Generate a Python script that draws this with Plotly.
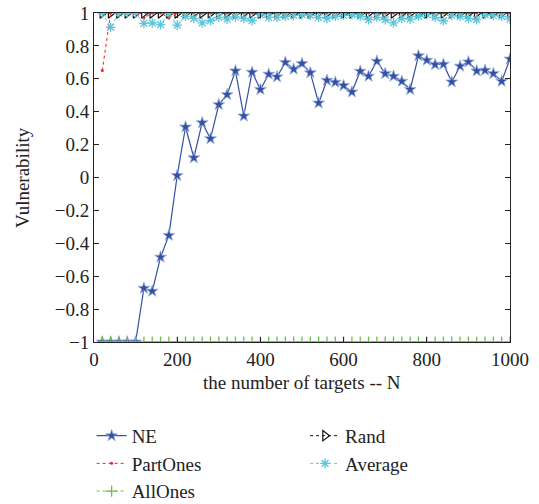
import plotly.graph_objects as go

N = list(range(20, 1001, 20))

ne = [-1, -1, -1, -1, -1, -0.673, -0.691, -0.484, -0.352, 0.012,
      0.307, 0.12, 0.333, 0.236, 0.443, 0.504, 0.648, 0.374, 0.64, 0.535,
      0.628, 0.612, 0.70, 0.659, 0.693, 0.637, 0.453, 0.591, 0.579, 0.559,
      0.52, 0.646, 0.616, 0.707, 0.632, 0.616, 0.585, 0.535, 0.74, 0.713,
      0.687, 0.689, 0.581, 0.677, 0.703, 0.648, 0.652, 0.632, 0.585, 0.72]

rand = [1.0] * 50

part_ones = [0.65, 1, 1, 1, 1, 0.97, 1, 1, 0.97, 1,
             1, 1, 1, 1, 1, 1, 1, 1, 1, 1,
             1, 1, 1, 1, 1, 1, 1, 1, 1, 1,
             1, 1, 1, 1, 1, 1, 1, 1, 1, 1,
             1, 1, 1, 1, 1, 1, 1, 1, 1, 1]

average = [1.0, 0.913, 1.0, 1.0, 1.0, 0.937, 0.94, 0.929, 1.0, 0.926,
           0.98, 0.967, 0.94, 0.953, 0.974, 0.963, 0.976, 0.967, 0.953, 0.99,
           0.974, 0.974, 0.98, 0.985, 0.99, 0.985, 0.974, 0.967, 0.98, 0.985,
           0.99, 0.98, 0.96, 0.974, 0.96, 0.94, 0.967, 0.963, 0.98, 0.99,
           0.974, 0.953, 0.985, 0.98, 0.967, 0.96, 0.99, 0.985, 0.98, 0.963]

all_ones = [-1.0] * 50

x_ticks = [0, 200, 400, 600, 800, 1000]
y_ticks = [-1, -0.8, -0.6, -0.4, -0.2, 0, 0.2, 0.4, 0.6, 0.8, 1]
y_tick_text = ["\u22121", "\u22120.8", "\u22120.6", "\u22120.4", "\u22120.2", "0",
               "0.2", "0.4", "0.6", "0.8", "1"]

FONT = "Liberation Serif"
TXT = "#222222"

fig = go.Figure()
fig.add_trace(go.Scatter(
    x=N, y=ne, name="NE", mode="lines+markers",
    line=dict(color="#3450a2", width=1.2),
    marker=dict(symbol="star", size=9, color="#3450a2",
                line=dict(color="#9fb4e0", width=0.8)),
    legend="legend"))
fig.add_trace(go.Scatter(
    x=N, y=rand, name="Rand", mode="lines+markers",
    line=dict(color="#111111", width=1, dash="dot"),
    marker=dict(symbol="triangle-right-open", size=9, color="#111111",
                line=dict(width=1.2)),
    legend="legend2"))
fig.add_trace(go.Scatter(
    x=N, y=part_ones, name="PartOnes", mode="lines+markers",
    line=dict(color="#ee2222", width=1, dash="dot"),
    marker=dict(symbol="circle", size=3, color="#ee2222"),
    legend="legend"))
fig.add_trace(go.Scatter(
    x=N, y=average, name="Average", mode="lines+markers",
    line=dict(color="#5cc6da", width=1, dash="dot"),
    marker=dict(symbol="asterisk-open", size=8, color="#5cc6da",
                line=dict(color="#5cc6da", width=1.3)),
    legend="legend2"))
fig.add_trace(go.Scatter(
    x=N, y=all_ones, name="AllOnes", mode="lines+markers",
    line=dict(color="#6cc04a", width=1, dash="dot"),
    marker=dict(symbol="cross-thin-open", size=8, color="#6cc04a",
                line=dict(color="#6cc04a", width=1.3)),
    legend="legend"))

axis_common = dict(
    showline=True, linecolor=TXT, linewidth=1, mirror="ticks",
    ticks="inside", ticklen=5, tickcolor=TXT, showgrid=False,
    zeroline=False, automargin=False,
    tickfont=dict(family=FONT, size=19, color=TXT),
)

fig.update_xaxes(range=[0, 1000], tickvals=x_ticks, **axis_common)
fig.update_yaxes(range=[-1, 1], tickvals=y_ticks, ticktext=y_tick_text,
                 **axis_common)

# axis titles
fig.add_annotation(text="the number of targets -- N", xref="paper", yref="paper",
                   x=0.5, y=-0.122, xanchor="center", yanchor="middle",
                   showarrow=False, font=dict(family=FONT, size=19, color=TXT))
fig.add_annotation(text="Vulnerability", xref="paper", yref="paper",
                   x=-0.172, y=0.5, xanchor="center", yanchor="middle",
                   textangle=-90, showarrow=False,
                   font=dict(family=FONT, size=19, color=TXT))

legend_font = dict(family=FONT, size=19, color=TXT)
fig.update_layout(
    width=539, height=504,
    margin=dict(l=94, r=29, t=13, b=162, autoexpand=False),
    paper_bgcolor="white", plot_bgcolor="white",
    font=dict(family=FONT, color=TXT),
    legend=dict(x=0.170, y=0.173, xref="container", yref="container",
                xanchor="left", yanchor="top",
                orientation="v", font=legend_font, bgcolor="rgba(0,0,0,0)",
                tracegroupgap=0, itemwidth=30),
    legend2=dict(x=0.566, y=0.173, xref="container", yref="container",
                 xanchor="left", yanchor="top",
                 orientation="v", font=legend_font, bgcolor="rgba(0,0,0,0)",
                 tracegroupgap=0, itemwidth=30),
)

fig.write_html("out.html")
